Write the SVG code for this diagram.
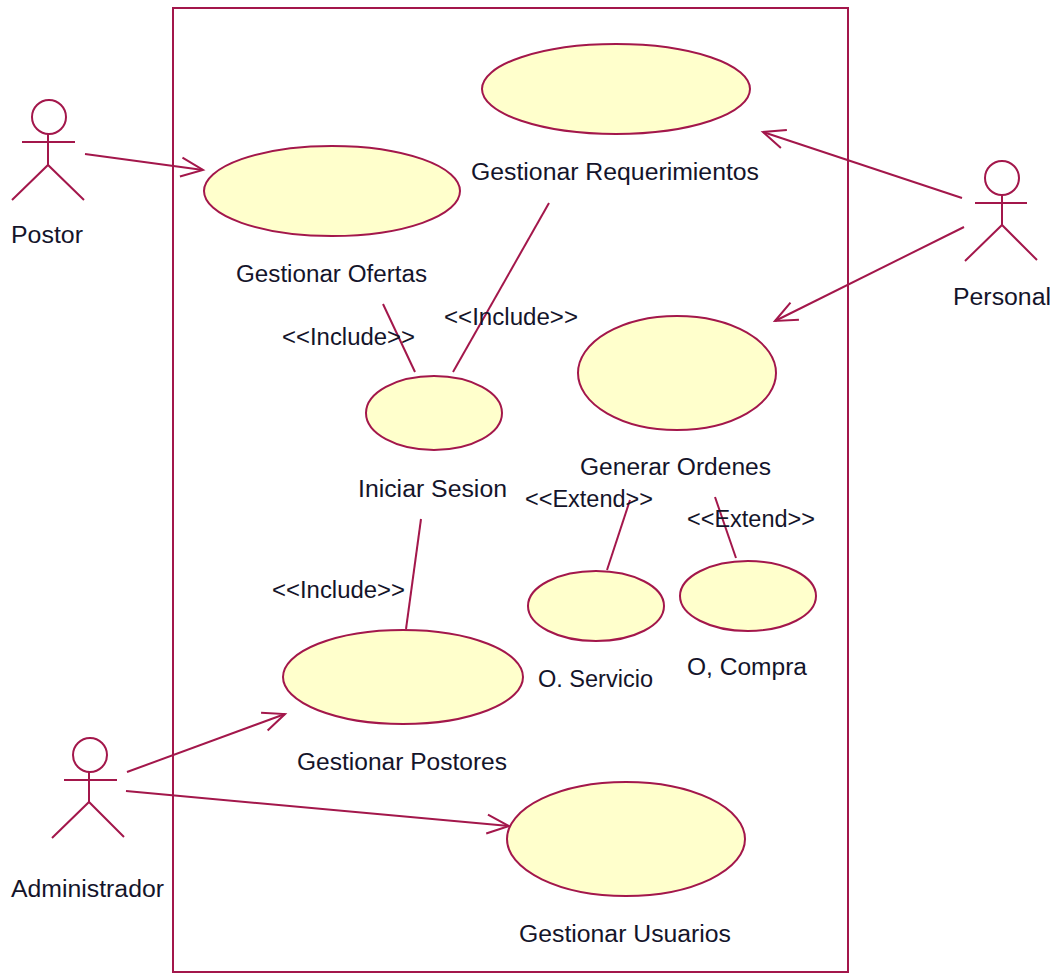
<svg xmlns="http://www.w3.org/2000/svg" width="1062" height="974" viewBox="0 0 1062 974">
<style>
.l{fill:none;stroke:#a3174b;stroke-width:2}
.u{fill:#ffffcc;stroke:#a3174b;stroke-width:2}
.h{fill:#fff;stroke:#a3174b;stroke-width:2}
text{font-family:"Liberation Sans",Arial,sans-serif;font-size:23px;fill:#14142a}
</style>
<defs>
<marker id="a" markerUnits="userSpaceOnUse" markerWidth="30" markerHeight="26" refX="24" refY="12" orient="auto" viewBox="0 0 30 24">
<path d="M2 2.500L24 12L2 21.500" fill="none" stroke="#a3174b" stroke-width="2"/>
</marker>
</defs>
<rect id="boundary" class="l" x="173" y="8" width="675" height="964"/>
<g id="connectors">
<path class="l" d="M85 154L203 170" marker-end="url(#a)"/>
<path class="l" d="M962 198L763 132" marker-end="url(#a)"/>
<path class="l" d="M964 227L775 321" marker-end="url(#a)"/>
<path class="l" d="M127 772L285 714" marker-end="url(#a)"/>
<path class="l" d="M126 791L509 826" marker-end="url(#a)"/>
<path class="l" d="M383 304L415 372"/>
<path class="l" d="M549 203L453 372"/>
<path class="l" d="M421 519L406 629"/>
<path class="l" d="M630 500L607 570"/>
<path class="l" d="M715 497L736 558"/>
</g>
<g id="actor-postor">
<circle class="h" cx="49" cy="117" r="17"/>
<path class="l" d="M48 134V165M22 142H75M12 200L48 165L84 200"/>
<text x="11" y="243" textLength="72" lengthAdjust="spacingAndGlyphs">Postor</text>
</g>
<g id="actor-personal">
<circle class="h" cx="1002" cy="178" r="17"/>
<path class="l" d="M1002 195V225M975 203H1027M965 261L1002 225L1037 260"/>
<text x="953" y="305" textLength="98" lengthAdjust="spacingAndGlyphs">Personal</text>
</g>
<g id="actor-administrador">
<circle class="h" cx="90" cy="755" r="17"/>
<path class="l" d="M89 772V802M64 780H117M52 838L89 802L124 837"/>
<text x="11" y="897" textLength="153" lengthAdjust="spacingAndGlyphs">Administrador</text>
</g>
<g id="uc-requerimientos">
<ellipse class="u" cx="616" cy="89" rx="134" ry="45"/>
<text x="471" y="180" textLength="288" lengthAdjust="spacingAndGlyphs">Gestionar Requerimientos</text>
</g>
<g id="uc-ofertas">
<ellipse class="u" cx="332" cy="191" rx="128" ry="45"/>
<text x="236" y="282" textLength="191" lengthAdjust="spacingAndGlyphs">Gestionar Ofertas</text>
</g>
<g id="uc-ordenes">
<ellipse class="u" cx="677" cy="373" rx="99" ry="57"/>
<text x="580" y="475" textLength="191" lengthAdjust="spacingAndGlyphs">Generar Ordenes</text>
</g>
<g id="uc-sesion">
<ellipse class="u" cx="434" cy="413" rx="68" ry="37"/>
<text x="358" y="497" textLength="149" lengthAdjust="spacingAndGlyphs">Iniciar Sesion</text>
</g>
<g id="uc-servicio">
<ellipse class="u" cx="596" cy="606" rx="68" ry="35"/>
<text x="538" y="687" textLength="115" lengthAdjust="spacingAndGlyphs">O. Servicio</text>
</g>
<g id="uc-compra">
<ellipse class="u" cx="748" cy="596" rx="68" ry="35"/>
<text x="687" y="675" textLength="120" lengthAdjust="spacingAndGlyphs">O, Compra</text>
</g>
<g id="uc-postores">
<ellipse class="u" cx="403" cy="677" rx="120" ry="47"/>
<text x="297" y="770" textLength="210" lengthAdjust="spacingAndGlyphs">Gestionar Postores</text>
</g>
<g id="uc-usuarios">
<ellipse class="u" cx="626" cy="839" rx="119" ry="57"/>
<text x="519" y="942" textLength="212" lengthAdjust="spacingAndGlyphs">Gestionar Usuarios</text>
</g>
<g id="labels">
<text x="282" y="345" textLength="133" lengthAdjust="spacingAndGlyphs">&lt;&lt;Include&gt;&gt;</text>
<text x="444" y="325" textLength="134" lengthAdjust="spacingAndGlyphs">&lt;&lt;Include&gt;&gt;</text>
<text x="272" y="598" textLength="133" lengthAdjust="spacingAndGlyphs">&lt;&lt;Include&gt;&gt;</text>
<text x="525" y="507" textLength="128" lengthAdjust="spacingAndGlyphs">&lt;&lt;Extend&gt;&gt;</text>
<text x="687" y="527" textLength="128" lengthAdjust="spacingAndGlyphs">&lt;&lt;Extend&gt;&gt;</text>
</g>
</svg>
